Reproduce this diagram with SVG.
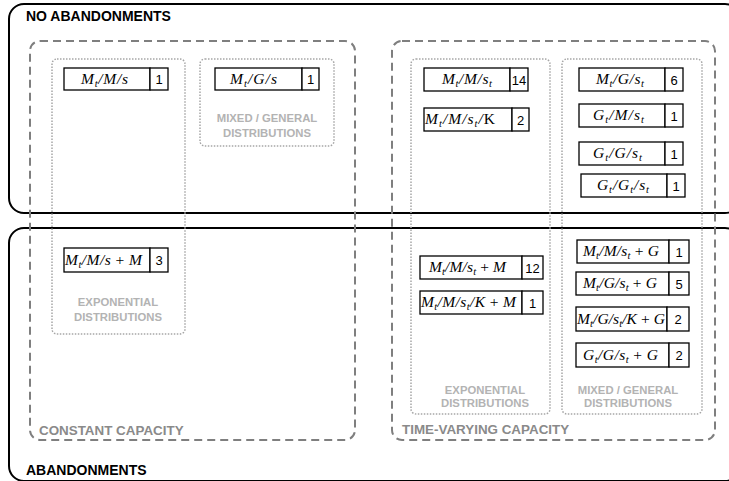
<svg xmlns="http://www.w3.org/2000/svg" width="729" height="481" viewBox="0 0 729 481">
<style>
.outer{fill:none;stroke:#000;stroke-width:2}
.dash{fill:none;stroke:#7f7f7f;stroke-width:2;stroke-dasharray:8 5}
.dot{fill:none;stroke:#a6a6a6;stroke-width:1.5;stroke-dasharray:1.5 1.5}
.big{font-family:"Liberation Sans",Arial,sans-serif;font-weight:bold;font-size:14px;fill:#000}
.cap{font-family:"Liberation Sans",Arial,sans-serif;font-weight:bold;font-size:13.4px;fill:#8a8a8a}
.dist{font-family:"Liberation Sans",Arial,sans-serif;font-weight:bold;font-size:11.3px;fill:#b3b3b3;text-anchor:middle}
.node rect{fill:#fff;stroke:#000;stroke-width:1.3}
.m{font-family:"Liberation Serif","Times New Roman",serif;font-style:italic;font-size:15.5px;fill:#000}
.s{font-size:10.5px}
.up{font-style:normal}
.c{font-family:"Liberation Sans",Arial,sans-serif;font-size:13px;fill:#000;text-anchor:middle}
</style>
<g id="regions">
<rect class="outer" x="9" y="4" width="731" height="209" rx="15"/>
<rect class="outer" x="9" y="228" width="731" height="253" rx="15"/>
<text class="big" x="26" y="21">NO ABANDONMENTS</text>
<text class="big" x="26" y="475">ABANDONMENTS</text>
<rect class="dash" x="30" y="41" width="325" height="399" rx="10"/>
<rect class="dash" x="392" y="41" width="323" height="399" rx="10"/>
<text class="cap" x="39" y="435">CONSTANT CAPACITY</text>
<text class="cap" x="402" y="434">TIME-VARYING CAPACITY</text>
<rect class="dot" x="52" y="59" width="133" height="275" rx="5"/>
<rect class="dot" x="200" y="59" width="134" height="87" rx="5"/>
<rect class="dot" x="411" y="59" width="139" height="355" rx="5"/>
<rect class="dot" x="562" y="59" width="140" height="355" rx="5"/>
<text class="dist" x="118" y="306">EXPONENTIAL</text>
<text class="dist" x="118" y="321">DISTRIBUTIONS</text>
<text class="dist" x="267" y="122">MIXED / GENERAL</text>
<text class="dist" x="267" y="137">DISTRIBUTIONS</text>
<text class="dist" x="485" y="394">EXPONENTIAL</text>
<text class="dist" x="485" y="407">DISTRIBUTIONS</text>
<text class="dist" x="628" y="394">MIXED / GENERAL</text>
<text class="dist" x="628" y="407">DISTRIBUTIONS</text>
</g>
<g id="connectors"/>
<g id="n1" class="node">
<rect x="64" y="68" width="86" height="22"/><rect x="150" y="68" width="18" height="22"/>
<text class="m" x="81" y="84" textLength="47">M<tspan class="s" dy="3">t</tspan><tspan dy="-3">/M/s</tspan></text>
<text class="c" x="159" y="84">1</text>
</g>
<g id="n2" class="node">
<rect x="215" y="68" width="87" height="22"/><rect x="302" y="68" width="17" height="22"/>
<text class="m" x="230" y="84" textLength="47">M<tspan class="s" dy="3">t</tspan><tspan dy="-3">/G/s</tspan></text>
<text class="c" x="310.5" y="84">1</text>
</g>
<g id="n3" class="node">
<rect x="424" y="68" width="86" height="23"/><rect x="510" y="68" width="18" height="23"/>
<text class="m" x="442" y="84" textLength="50">M<tspan class="s" dy="3">t</tspan><tspan dy="-3">/M/s</tspan><tspan class="s" dy="3">t</tspan></text>
<text class="c" x="519" y="84.5">14</text>
</g>
<g id="n4" class="node">
<rect x="424" y="108" width="88" height="23"/><rect x="512" y="108" width="17" height="23"/>
<text class="m" x="425" y="124" textLength="70">M<tspan class="s" dy="3">t</tspan><tspan dy="-3">/M/s</tspan><tspan class="s" dy="3">t</tspan><tspan dy="-3">/</tspan><tspan class="up">K</tspan></text>
<text class="c" x="520.5" y="124.5">2</text>
</g>
<g id="n5" class="node">
<rect x="579" y="68" width="86" height="23"/><rect x="665" y="68" width="18" height="23"/>
<text class="m" x="596" y="84" textLength="48">M<tspan class="s" dy="3">t</tspan><tspan dy="-3">/G/s</tspan><tspan class="s" dy="3">t</tspan></text>
<text class="c" x="674" y="84.5">6</text>
</g>
<g id="n6" class="node">
<rect x="579" y="104" width="86" height="23"/><rect x="665" y="104" width="18" height="23"/>
<text class="m" x="593" y="120" textLength="51">G<tspan class="s" dy="3">t</tspan><tspan dy="-3">/M/s</tspan><tspan class="s" dy="3">t</tspan></text>
<text class="c" x="674" y="120.5">1</text>
</g>
<g id="n7" class="node">
<rect x="579" y="142" width="86" height="23"/><rect x="665" y="142" width="18" height="23"/>
<text class="m" x="593" y="158" textLength="49">G<tspan class="s" dy="3">t</tspan><tspan dy="-3">/G/s</tspan><tspan class="s" dy="3">t</tspan></text>
<text class="c" x="674" y="158.5">1</text>
</g>
<g id="n8" class="node">
<rect x="581" y="174" width="86" height="23"/><rect x="667" y="174" width="18" height="23"/>
<text class="m" x="597" y="190" textLength="52">G<tspan class="s" dy="3">t</tspan><tspan dy="-3">/G</tspan><tspan class="s" dy="3">t</tspan><tspan dy="-3">/s</tspan><tspan class="s" dy="3">t</tspan></text>
<text class="c" x="676" y="190.5">1</text>
</g>
<g id="n9" class="node">
<rect x="64" y="248" width="86" height="24"/><rect x="150" y="248" width="18" height="24"/>
<text class="m" x="65" y="265" textLength="77">M<tspan class="s" dy="3">t</tspan><tspan dy="-3">/M/s </tspan><tspan class="up">+</tspan> M</text>
<text class="c" x="159" y="265">3</text>
</g>
<g id="n10" class="node">
<rect x="420" y="256" width="102" height="23"/><rect x="522" y="256" width="21" height="23"/>
<text class="m" x="429" y="272" textLength="77">M<tspan class="s" dy="3">t</tspan><tspan dy="-3">/M/s</tspan><tspan class="s" dy="3">t</tspan><tspan dy="-3"> </tspan><tspan class="up">+</tspan> M</text>
<text class="c" x="532.5" y="272.5">12</text>
</g>
<g id="n11" class="node">
<rect x="420" y="291" width="102" height="23"/><rect x="522" y="291" width="21" height="23"/>
<text class="m" x="421" y="307" textLength="95">M<tspan class="s" dy="3">t</tspan><tspan dy="-3">/M/s</tspan><tspan class="s" dy="3">t</tspan><tspan dy="-3">/K </tspan><tspan class="up">+</tspan> M</text>
<text class="c" x="532.5" y="307.5">1</text>
</g>
<g id="n12" class="node">
<rect x="577" y="240" width="92" height="23"/><rect x="669" y="240" width="20" height="23"/>
<text class="m" x="583" y="256" textLength="76">M<tspan class="s" dy="3">t</tspan><tspan dy="-3">/M/s</tspan><tspan class="s" dy="3">t</tspan><tspan dy="-3"> </tspan><tspan class="up">+</tspan> G</text>
<text class="c" x="679" y="256.5">1</text>
</g>
<g id="n13" class="node">
<rect x="576" y="272" width="93" height="23"/><rect x="669" y="272" width="20" height="23"/>
<text class="m" x="583" y="288" textLength="74">M<tspan class="s" dy="3">t</tspan><tspan dy="-3">/G/s</tspan><tspan class="s" dy="3">t</tspan><tspan dy="-3"> </tspan><tspan class="up">+</tspan> G</text>
<text class="c" x="679" y="288.5">5</text>
</g>
<g id="n14" class="node">
<rect x="576" y="307" width="91" height="24"/><rect x="667" y="307" width="22" height="24"/>
<text class="m" x="577" y="323.5" textLength="88">M<tspan class="s" dy="3">t</tspan><tspan dy="-3">/G/s</tspan><tspan class="s" dy="3">t</tspan><tspan dy="-3">/K </tspan><tspan class="up">+</tspan> G</text>
<text class="c" x="678" y="324">2</text>
</g>
<g id="n15" class="node">
<rect x="576" y="343" width="93" height="24"/><rect x="669" y="343" width="20" height="24"/>
<text class="m" x="583" y="359.5" textLength="75">G<tspan class="s" dy="3">t</tspan><tspan dy="-3">/G/s</tspan><tspan class="s" dy="3">t</tspan><tspan dy="-3"> </tspan><tspan class="up">+</tspan> G</text>
<text class="c" x="679" y="360">2</text>
</g>
</svg>
